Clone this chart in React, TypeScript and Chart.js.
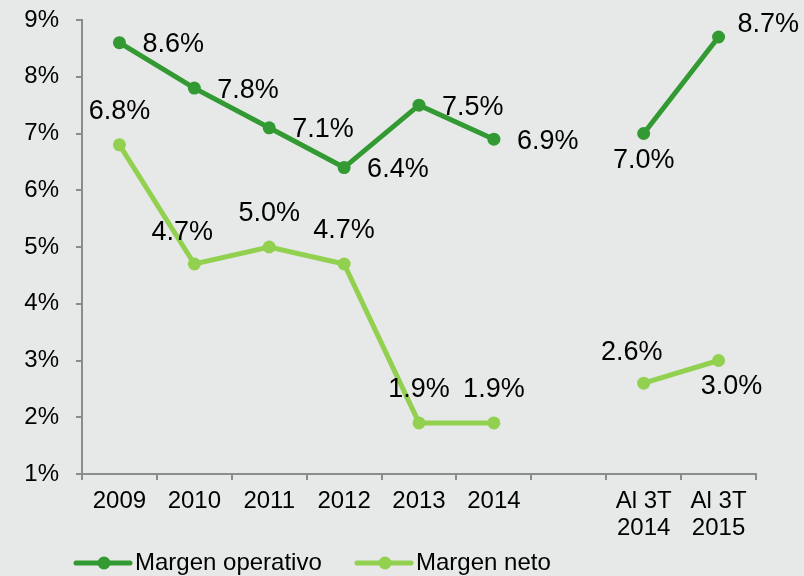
import React, { useEffect, useRef } from "react";
import { Chart, registerables } from "chart.js";

Chart.register(...registerables);

const categories: (string | string[])[] = ["2009", "2010", "2011", "2012", "2013", "2014", "", ["Al 3T", "2014"], ["Al 3T", "2015"]];
const margenOperativo: (number | null)[] = [8.6, 7.8, 7.1, 6.4, 7.5, 6.9, null, 7.0, 8.7];
const margenNeto: (number | null)[] = [6.8, 4.7, 5.0, 4.7, 1.9, 1.9, null, 2.6, 3.0];
const operativoLabelPos = ["right", "right", "right", "right", "right", "right", "", "below", "rightUp"];
const netoLabelPos = ["above", "aboveLeft", "above", "above", "above", "above", "", "aboveLeft", "belowRight"];
const seriesNames = ["Margen operativo", "Margen neto"];
const yTicks = { min: 1, max: 9, step: 1 };

const DARK = "#339a33";
const LIGHT = "#92d050";
const BG = "#e7e8e8";
const FONT = "'Liberation Sans', Arial, sans-serif";

const labelPlugin = {
  id: "valueLabels",
  afterDatasetsDraw(chart: any) {
    const ctx = chart.ctx;
    ctx.save();
    ctx.font = `27px ${FONT}`;
    ctx.fillStyle = "#000";
    ctx.textBaseline = "middle";
    const positions = [operativoLabelPos, netoLabelPos];
    chart.data.datasets.forEach((ds: any, di: number) => {
      const meta = chart.getDatasetMeta(di);
      meta.data.forEach((pt: any, i: number) => {
        const v = ds.data[i];
        if (v === null || v === undefined) return;
        const txt = v.toFixed(1) + "%";
        const pos = positions[di][i];
        let x = pt.x, y = pt.y;
        ctx.textAlign = "center";
        if (pos === "right") { ctx.textAlign = "left"; x += 23; y += 2; }
        else if (pos === "rightUp") { ctx.textAlign = "left"; x += 19; y -= 12; }
        else if (pos === "above") { y -= 33; }
        else if (pos === "aboveLeft") { x -= 12; y -= 31; }
        else if (pos === "below") { y += 27; }
        else if (pos === "belowRight") { x += 13; y += 26; }
        ctx.fillText(txt, x, y);
      });
    });
    ctx.restore();
  },
};

const legendPlugin = {
  id: "customLegend",
  afterDraw(chart: any) {
    const ctx = chart.ctx;
    ctx.save();
    const y = 563;
    const items = [
      { x: 76, color: DARK, text: seriesNames[0] },
      { x: 357, color: LIGHT, text: seriesNames[1] },
    ];
    items.forEach((it) => {
      ctx.strokeStyle = it.color;
      ctx.lineWidth = 5;
      ctx.lineCap = "round";
      ctx.beginPath();
      ctx.moveTo(it.x, y);
      ctx.lineTo(it.x + 54, y);
      ctx.stroke();
      ctx.fillStyle = it.color;
      ctx.beginPath();
      ctx.arc(it.x + 28, y, 6.5, 0, Math.PI * 2);
      ctx.fill();
      ctx.fillStyle = "#000";
      ctx.font = `24px ${FONT}`;
      ctx.textBaseline = "middle";
      ctx.textAlign = "left";
      ctx.fillText(it.text, it.x + 59, y);
    });
    ctx.restore();
  },
};

const bgPlugin = {
  id: "bg",
  beforeDraw(chart: any) {
    const ctx = chart.ctx;
    ctx.save();
    ctx.fillStyle = BG;
    ctx.fillRect(0, 0, chart.width, chart.height);
    ctx.restore();
  },
};

export default function App() {
  const ref = useRef<HTMLCanvasElement>(null);
  useEffect(() => {
    if (!ref.current) return;
    const chart = new Chart(ref.current, {
      type: "line",
      data: {
        labels: categories as any,
        datasets: [
          {
            label: seriesNames[0],
            data: margenOperativo,
            borderColor: DARK,
            backgroundColor: DARK,
            borderWidth: 5,
            pointRadius: 6.5,
            pointHoverRadius: 6.5,
            pointBorderWidth: 0,
            spanGaps: false,
            tension: 0,
          },
          {
            label: seriesNames[1],
            data: margenNeto,
            borderColor: LIGHT,
            backgroundColor: LIGHT,
            borderWidth: 5,
            pointRadius: 6.5,
            pointHoverRadius: 6.5,
            pointBorderWidth: 0,
            spanGaps: false,
            tension: 0,
          },
        ],
      },
      options: {
        animation: false,
        responsive: false,
        layout: { padding: { left: 0, right: 48, top: 20, bottom: 30 } },
        plugins: { legend: { display: false }, tooltip: { enabled: false } },
        scales: {
          x: {
            offset: true,
            grid: { offset: true, drawOnChartArea: false, drawTicks: true, tickLength: 6, color: "#8c8c8c", lineWidth: 2 },
            border: { color: "#8c8c8c", width: 2 },
            ticks: { color: "#000", font: { size: 24, family: FONT, lineHeight: 1.12 }, padding: 8, maxRotation: 0, autoSkip: false },
            afterFit: (s: any) => { s.height = 72; s.paddingLeft = 0; s.paddingRight = 0; },
          },
          y: {
            min: yTicks.min,
            max: yTicks.max,
            grid: { drawOnChartArea: false, drawTicks: true, tickLength: 6, color: "#8c8c8c", lineWidth: 2 },
            border: { color: "#8c8c8c", width: 2 },
            ticks: { stepSize: yTicks.step, color: "#000", font: { size: 24, family: FONT }, padding: 17, callback: (v: any) => v + "%" },
            afterFit: (s: any) => { s.width = 82; s.paddingTop = 0; s.paddingBottom = 0; },
          },
        },
      },
      plugins: [bgPlugin, labelPlugin, legendPlugin],
    });
    return () => chart.destroy();
  }, []);
  return (
    <div style={{ position: "fixed", left: 0, top: 0, width: 804, height: 576, background: BG }}>
      <canvas ref={ref} width={804} height={576} />
    </div>
  );
}
